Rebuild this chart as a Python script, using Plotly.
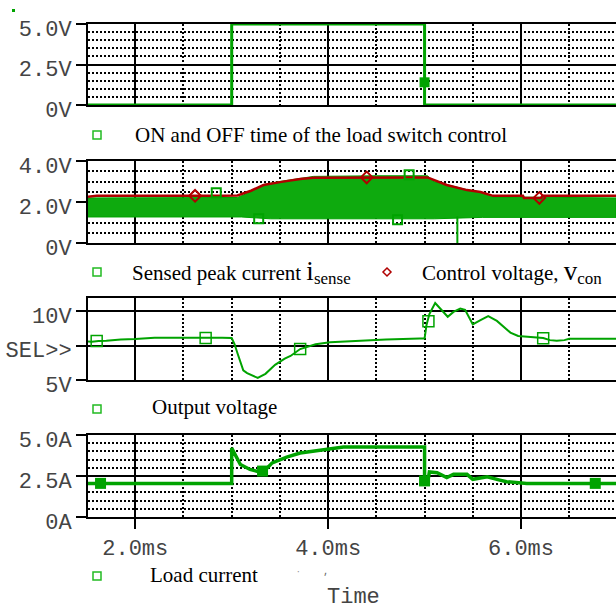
import plotly.graph_objects as go

W, H = 616, 609
GREEN = "#00a300"
RED = "#b00000"
XR = [1.51, 6.985]

# ---------------- data ----------------
# Panel 1: load switch control
t_sw = [1.51, 3.0, 3.0, 5.0, 5.0, 6.985]
v_sw = [0, 0, 5.0, 5.0, 0, 0]
t_sw_mk = [5.0]
v_sw_mk = [1.4]

# Panel 2: control voltage (red) and sensed peak current band (green)
t_con = [1.51, 1.6, 2.9, 3.06, 3.2, 3.33, 3.5, 3.71, 3.85, 4.5, 5.03, 5.23, 5.44, 5.58, 5.71, 6.02, 6.03, 6.21, 6.22, 6.985]
v_con = [2.25, 2.3, 2.3, 2.32, 2.55, 2.83, 2.97, 3.12, 3.18, 3.2, 3.2, 2.83, 2.58, 2.49, 2.3, 2.3, 2.2, 2.2, 2.3, 2.3]
t_sense_hi = [1.51, 3.06, 3.2, 3.33, 3.5, 3.71, 3.85, 4.5, 5.03, 5.1, 5.23, 5.44, 5.58, 5.71, 6.985]
v_sense_hi = [2.2, 2.22, 2.5, 2.85, 3.0, 3.17, 3.25, 3.28, 3.28, 3.0, 2.85, 2.6, 2.48, 2.25, 2.2]
t_sense_lo = [1.51, 3.1, 3.4, 5.1, 5.6, 6.985]
v_sense_lo = [1.27, 1.27, 1.18, 1.18, 1.25, 1.25]
t_spike = [5.34, 5.34]
v_spike = [1.3, -0.05]
t_sense_mk = [2.84, 3.28, 4.72, 4.84]
v_sense_mk = [2.45, 1.18, 1.13, 3.33]
t_con_mk = [2.62, 4.40, 6.19]
v_con_mk = [2.3, 3.2, 2.2]

# Panel 3: output voltage
t_out = [1.51, 1.55, 1.62, 1.7, 1.85, 2.0, 2.2, 2.7, 2.9, 3.0, 3.03, 3.06, 3.09, 3.12, 3.16, 3.22, 3.27, 3.35, 3.45,
         3.55, 3.61, 3.71, 3.87, 4.02, 4.3, 4.6, 4.95, 5.0, 5.02, 5.05, 5.11, 5.18, 5.24, 5.30, 5.37, 5.42, 5.50,
         5.58, 5.66, 5.75, 5.82, 5.89, 5.97, 6.1, 6.23, 6.3, 6.37, 6.45, 6.5, 6.985]
v_out = [7.8, 7.78, 7.83, 7.85, 7.95, 7.98, 8.08, 8.1, 8.07, 8.05, 7.6, 6.95, 6.3, 5.7, 5.5, 5.3, 5.15, 5.45, 6.1,
         6.55, 6.75, 7.25, 7.6, 7.75, 7.85, 7.95, 8.02, 8.02, 9.0, 9.8, 10.6, 10.1, 9.6, 9.95, 10.2, 10.1, 9.05,
         9.35, 9.64, 9.3, 8.9, 8.45, 8.2, 8.15, 8.05, 7.9, 7.85, 7.9, 8.0, 8.0]
t_out_mk = [1.60, 2.73, 3.71, 5.04, 6.23]
v_out_mk = [7.83, 8.06, 7.25, 9.28, 8.04]

# Panel 4: load current
t_load = [1.51, 3.0, 3.0, 3.09, 3.19, 3.32, 3.42, 3.57, 3.71, 3.84, 3.97, 4.16, 5.0, 5.0, 5.03, 5.05, 5.13, 5.23,
          5.3, 5.44, 5.5, 5.65, 5.78, 5.85, 6.06, 6.985]
i_load = [2.05, 2.05, 4.2, 3.2, 2.9, 2.7, 3.3, 3.65, 3.9, 4.0, 4.15, 4.27, 4.27, 2.05, 2.05, 2.75, 2.7, 2.4,
          2.6, 2.6, 2.3, 2.45, 2.25, 2.15, 2.05, 2.05]
t_load_mk = [1.64, 3.32, 5.0, 6.77]
i_load_mk = [2.05, 2.8, 2.2, 2.05]

# Tick labels
y1_vals, y1_text = [0, 2.5, 5.0], ["0V", "2.5V", "5.0V"]
y2_vals, y2_text = [0, 2.0, 4.0], ["0V", "2.0V", "4.0V"]
y3_vals, y3_text = [5, 7.5, 10], ["5V", "SEL>>", "10V"]
y4_vals, y4_text = [0, 2.5, 5.0], ["0A", "2.5A", "5.0A"]
x_vals, x_text = [2.0, 4.0, 6.0], ["2.0ms", "4.0ms", "6.0ms"]

legend_texts = [
    "ON and OFF time of the load switch control",
    "Sensed peak current <span style='font-size:27px'>i</span><sub><span style='font-size:17px'>sense</span></sub>",
    "Control voltage, <span style='font-size:27px'>v</span><sub><span style='font-size:17px'>con</span></sub>",
    "Output voltage",
    "Load current",
]

# ---------------- figure ----------------
fig = go.Figure()

def py(p):
    return 1 - p / H

def px(p):
    return p / W

# panel 1
fig.add_trace(go.Scatter(x=t_sw, y=v_sw, mode="lines", line=dict(color=GREEN, width=3), xaxis="x", yaxis="y", cliponaxis=False))
fig.add_trace(go.Scatter(x=t_sw_mk, y=v_sw_mk, mode="markers", xaxis="x", yaxis="y",
                         marker=dict(symbol="square", size=10, color=GREEN)))
# panel 2
band_x = t_sense_hi + t_sense_lo[::-1]
band_y = v_sense_hi + v_sense_lo[::-1]
fig.add_trace(go.Scatter(x=band_x, y=band_y, mode="lines", fill="toself", fillcolor="rgb(14,170,14)",
                         line=dict(color=GREEN, width=1), xaxis="x2", yaxis="y2"))
fig.add_trace(go.Scatter(x=t_spike, y=v_spike, mode="lines", line=dict(color=GREEN, width=2), xaxis="x2", yaxis="y2",
                         cliponaxis=False))
fig.add_trace(go.Scatter(x=t_con, y=v_con, mode="lines", line=dict(color=RED, width=2.5), xaxis="x2", yaxis="y2"))
fig.add_trace(go.Scatter(x=t_sense_mk, y=v_sense_mk, mode="markers", xaxis="x2", yaxis="y2",
                         marker=dict(symbol="square-open", size=9, color=GREEN, line=dict(width=2))))
fig.add_trace(go.Scatter(x=t_con_mk, y=v_con_mk, mode="markers", xaxis="x2", yaxis="y2",
                         marker=dict(symbol="diamond-open", size=9, color=RED, line=dict(width=2))))
# panel 3
fig.add_trace(go.Scatter(x=t_out, y=v_out, mode="lines", line=dict(color=GREEN, width=2), xaxis="x3", yaxis="y3"))
fig.add_trace(go.Scatter(x=t_out_mk, y=v_out_mk, mode="markers", xaxis="x3", yaxis="y3",
                         marker=dict(symbol="square-open", size=11, color=GREEN, line=dict(width=1.5))))
# panel 4
fig.add_trace(go.Scatter(x=t_load, y=i_load, mode="lines", line=dict(color=GREEN, width=3.5), xaxis="x4", yaxis="y4"))
fig.add_trace(go.Scatter(x=t_load_mk, y=i_load_mk, mode="markers", xaxis="x4", yaxis="y4",
                         marker=dict(symbol="square", size=11, color=GREEN)))

TICKFONT = dict(family="Liberation Mono, Courier New, monospace", size=22, color="#444")
dot = "2px,2px"

def xaxis(anchor, show_labels):
    d = dict(domain=[88 / W, 1], range=XR, anchor=anchor, showline=True, mirror=True, linecolor="black",
             linewidth=2, showgrid=True, gridcolor="black", gridwidth=2, zeroline=False,
             tickmode="array", tickvals=x_vals,
             ticks="outside" if show_labels else "", ticklen=10, tickwidth=2, tickcolor="black",
             showticklabels=show_labels, tickfont=TICKFONT, layer="below traces", automargin=False,
             minor=dict(tick0=0, dtick=0.5, showgrid=True, gridcolor="black", gridwidth=1.5, griddash=dot))
    if show_labels:
        d["ticktext"] = x_text
    return d

def yaxis(dom, rng, vals, text, minor):
    d = dict(domain=dom, range=rng, showline=True, mirror=False, linecolor="black", linewidth=2,
             showgrid=True, gridcolor="black", gridwidth=2, zeroline=False, tickmode="array",
             tickvals=vals, ticktext=text, ticks="outside", ticklen=10, tickwidth=2, tickcolor="black",
             tickfont=TICKFONT, layer="below traces", automargin=False, ticklabelstandoff=0,
             ticklabelshift=4)
    if minor:
        d["minor"] = dict(tick0=0, dtick=0.5, showgrid=True, gridcolor="black", gridwidth=1.5, griddash=dot)
    return d

fig.update_layout(
    width=W, height=H, margin=dict(l=0, r=0, t=0, b=0),
    paper_bgcolor="white", plot_bgcolor="white", showlegend=False, template="none",
    xaxis=xaxis("y", False), xaxis2=xaxis("y2", False), xaxis3=xaxis("y3", False), xaxis4=xaxis("y4", True),
    yaxis=yaxis([py(105), py(24)], [0, 5], y1_vals, y1_text, True),
    yaxis2=yaxis([py(243), py(161)], [0, 4], y2_vals, y2_text, True),
    yaxis3=yaxis([py(380), py(297.5)], [5, 11], y3_vals, y3_text, False),
    yaxis4=yaxis([py(517), py(435)], [0, 5], y4_vals, y4_text, True),
)

LEGFONT = dict(family="Liberation Serif, Times New Roman, serif", size=21, color="black")
leg_pos = [(133, 135), (130, 272), (420, 272), (150, 407), (148, 575)]
for txt, (lx, ly) in zip(legend_texts, leg_pos):
    fig.add_annotation(x=px(lx), y=py(ly), xref="paper", yref="paper", text=txt, showarrow=False,
                       xanchor="left", yanchor="middle", font=LEGFONT)

# legend markers
for (mx, my) in [(97, 135), (97, 272), (97, 409), (97, 576)]:
    fig.add_shape(type="rect", xref="paper", yref="paper", x0=px(mx - 4), x1=px(mx + 4), y0=py(my + 4), y1=py(my - 4),
                  line=dict(color="#22bb22", width=1.5), fillcolor="rgba(0,0,0,0)")
dx, dy = 387, 272
fig.add_shape(type="path", xref="paper", yref="paper",
              path=f"M{px(dx)},{py(dy-4)} L{px(dx+4)},{py(dy)} L{px(dx)},{py(dy+4)} L{px(dx-4)},{py(dy)} Z",
              line=dict(color=RED, width=1.5))
# small green dot top-left
fig.add_shape(type="rect", xref="paper", yref="paper", x0=px(12), x1=px(15), y0=py(12), y1=py(9),
              line=dict(width=0), fillcolor=GREEN)

fig.add_annotation(x=px(353), y=py(597), xref="paper", yref="paper", text="Time", showarrow=False,
                   xanchor="center", yanchor="middle", font=TICKFONT)
fig.add_annotation(x=px(298), y=py(580), xref="paper", yref="paper", text="·", showarrow=False,
                   font=dict(size=10, color="#999"))
fig.add_annotation(x=px(325), y=py(580), xref="paper", yref="paper", text=",", showarrow=False,
                   font=dict(size=12, color="#666"))

fig.write_html("out.html", config={"displayModeBar": False},
               post_script="document.body.style.margin='0';document.body.style.overflow='hidden';")
